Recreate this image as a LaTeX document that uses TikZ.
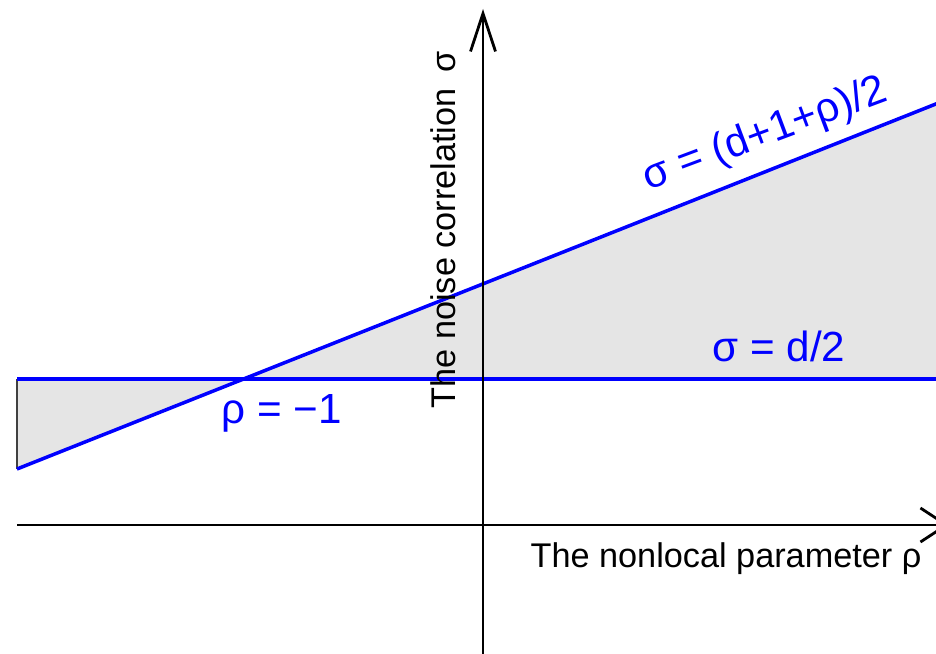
\documentclass[tikz,border=0pt]{standalone}
\usepackage{fontspec}
\setmainfont{Liberation Sans}
\usetikzlibrary{arrows.meta}

\begin{document}
\begin{tikzpicture}[x=0.02cm,y=0.02cm,
        axis/.style={line width=1.6pt,black},
        bline/.style={line width=2pt,blue},
        region/.style={fill=black!10},
        blabel/.style={text=blue,inner sep=0pt,anchor=base,font=\fontsize{24}{28}\selectfont},
        alabel/.style={inner sep=0pt,anchor=base,font=\fontsize{19.5}{23}\selectfont}]
  \useasboundingbox (0,0) rectangle (936,653);
  \clip (0,0) rectangle (936,653);
  % axes ends and the two lines
  \coordinate (xl) at (17,128);
  \coordinate (xr) at (949,128);
  \coordinate (yb) at (483,-10);
  \coordinate (yt) at (483,644);
  \coordinate (hl) at (17,274);
  \coordinate (hr) at (960,274);
  \coordinate (sl) at (17,184);
  \coordinate (sr) at (960,558.6);
  \coordinate (cross) at (243.6,274);
  % shaded regions
  \fill[region] (hl) -- (cross) -- (sl) -- cycle;
  \fill[region] (cross) -- (sr) -- (hr) -- cycle;
  \draw[line width=0.6pt,black!75] (sl) -- (hl);
  \draw[bline] (hl) -- (hr);
  \draw[bline] (sl) -- (sr);
  \draw[axis,-{Straight Barb[length=0.76cm,width=0.5cm]}] (yb) -- (yt);
  \draw[axis,-{Straight Barb[length=0.52cm,width=0.68cm]}] (xl) -- (xr);
  % labels
  \node[blabel,rotate=20.5] (slant) at (769,508) {σ = (d+1+ρ)/2};
  \node[blabel] (half) at (779,292) {σ = d/2};
  \node[blabel] (rho) at (282,230) {ρ = −1};
  \node[alabel] (xlab) at (726,86) {The nonlocal parameter ρ};
  \node[alabel,rotate=90] (ylab) at (455,423) {The noise correlation\hspace{0.45em}σ};
\end{tikzpicture}
\end{document}
